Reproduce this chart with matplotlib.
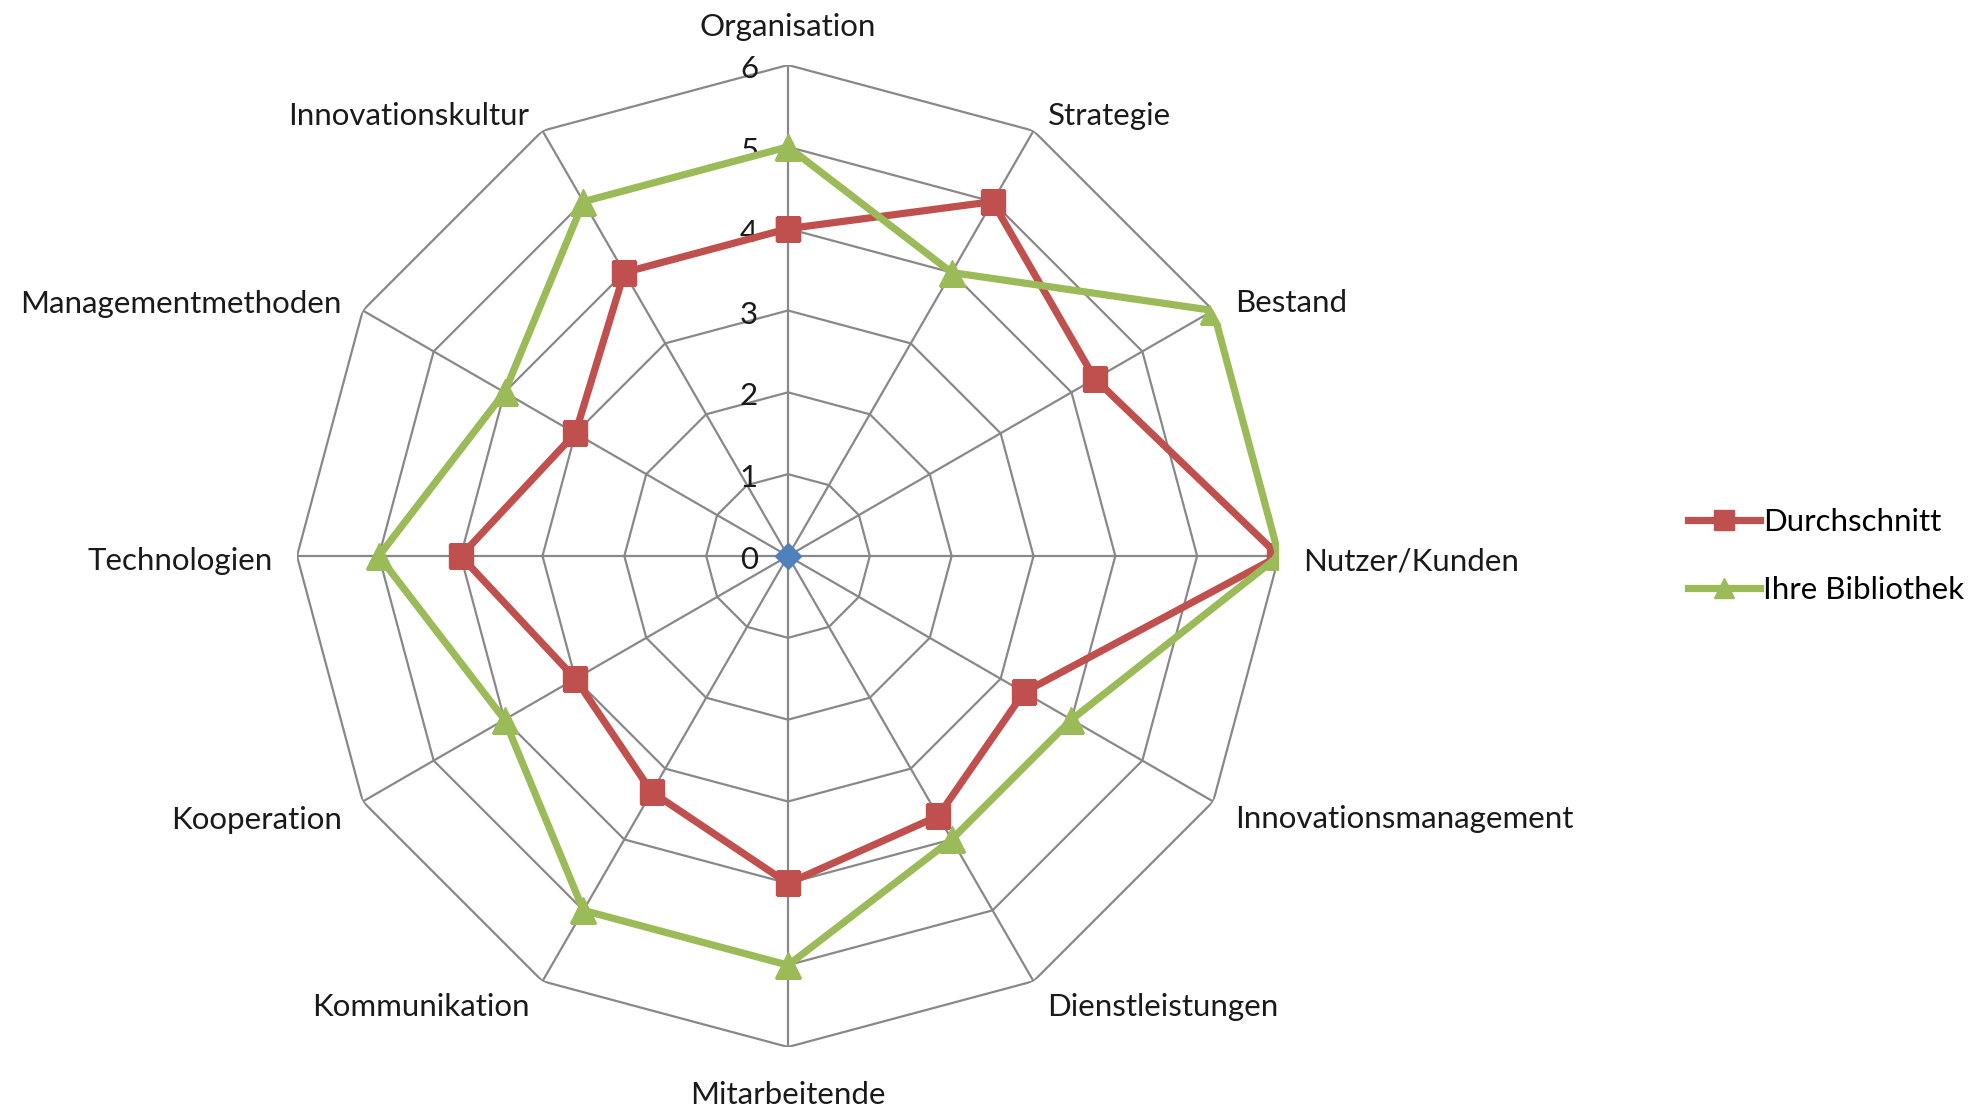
import numpy as np
import matplotlib
matplotlib.use("Agg")
import matplotlib.pyplot as plt

plt.rcParams['font.family'] = ['Lato', 'DejaVu Sans']

categories = ["Organisation", "Strategie", "Bestand", "Nutzer/Kunden",
              "Innovationsmanagement", "Dienstleistungen", "Mitarbeitende",
              "Kommunikation", "Kooperation", "Technologien",
              "Managementmethoden", "Innovationskultur"]
durchschnitt = [4.0, 5.0, 4.33, 6.0, 3.33, 3.67, 4.0, 3.33, 3.0, 4.0, 3.0, 4.0]
bibliothek = [5.0, 4.0, 6.0, 6.0, 4.0, 4.0, 5.0, 5.0, 4.0, 5.0, 4.0, 5.0]
basis = [0, 0, 0, 0, 0, 0, 0, 0, 0, 0, 0, 0]
tick_values = [0, 1, 2, 3, 4, 5, 6]

# label offsets in pixels (dx, dy, ha) relative to outer vertex
label_offsets = [(0, 38, 'center'), (14, 15, 'left'), (22, 7, 'left'),
                 (24, -5, 'left'), (22, -18, 'left'), (14, -26, 'left'),
                 (0, -48, 'center'), (-13, -26, 'right'), (-21, -18, 'right'),
                 (-24, -5, 'right'), (-21, 7, 'right'), (-13, 15, 'right')]

W, H = 1988, 1116
FS = 22.5
fig = plt.figure(figsize=(W / 100, H / 100), dpi=100)
cx, cy, R = 788, 556, 491
ax = fig.add_axes([(cx - R) / W, (H - cy - R) / H, 2 * R / W, 2 * R / H],
                  projection='polar')
ax.set_theta_zero_location('N')
ax.set_theta_direction(-1)
ax.set_ylim(0, 6)
ax.grid(False)
ax.spines['polar'].set_visible(False)
ax.set_xticks([])
ax.set_yticks([])
ax.patch.set_alpha(0)

n = len(categories)
angles = np.arange(n) * 2 * np.pi / n
closed = np.append(angles, angles[0])

grid_color = '#888888'
for r in tick_values[1:]:
    ax.plot(closed, [r] * (n + 1), color=grid_color, lw=1.6, zorder=1)
for a in angles:
    ax.plot([a, a], [0, tick_values[-1]], color=grid_color, lw=1.6, zorder=1)

for t in tick_values:
    ax.annotate(str(t), xy=(0, t), xytext=(-30, -4), textcoords='offset pixels',
                ha='right', va='center', fontsize=FS, color='#1a1a1a')

ax.plot(angles[:1], basis[:1], marker='D', color='#4F81BD', ms=13, ls='none',
        zorder=3, label='_basis')
ax.plot(closed, np.append(durchschnitt, durchschnitt[0]), color='#C0504D', lw=5.2,
        marker='s', ms=17, zorder=4, label='Durchschnitt')
ax.plot(closed, np.append(bibliothek, bibliothek[0]), color='#9BBB59', lw=5.2,
        marker='^', ms=19, zorder=5, label='Ihre Bibliothek')

for a, name, (dx, dy, ha) in zip(angles, categories, label_offsets):
    ax.annotate(name, xy=(a, 6), xytext=(dx, dy), textcoords='offset pixels',
                ha=ha, va='center', fontsize=FS, color='#1a1a1a',
                annotation_clip=False)

leg = fig.legend(loc='center left', bbox_to_anchor=(1688 / W, 1 - 556 / H),
                 frameon=False, fontsize=FS, handlelength=2.3,
                 handletextpad=0.1, labelspacing=1.3, borderpad=0,
                 borderaxespad=0)
for h in leg.legend_handles:
    h.set_markersize(15)

fig.savefig('out.png', dpi=100, facecolor='white')
